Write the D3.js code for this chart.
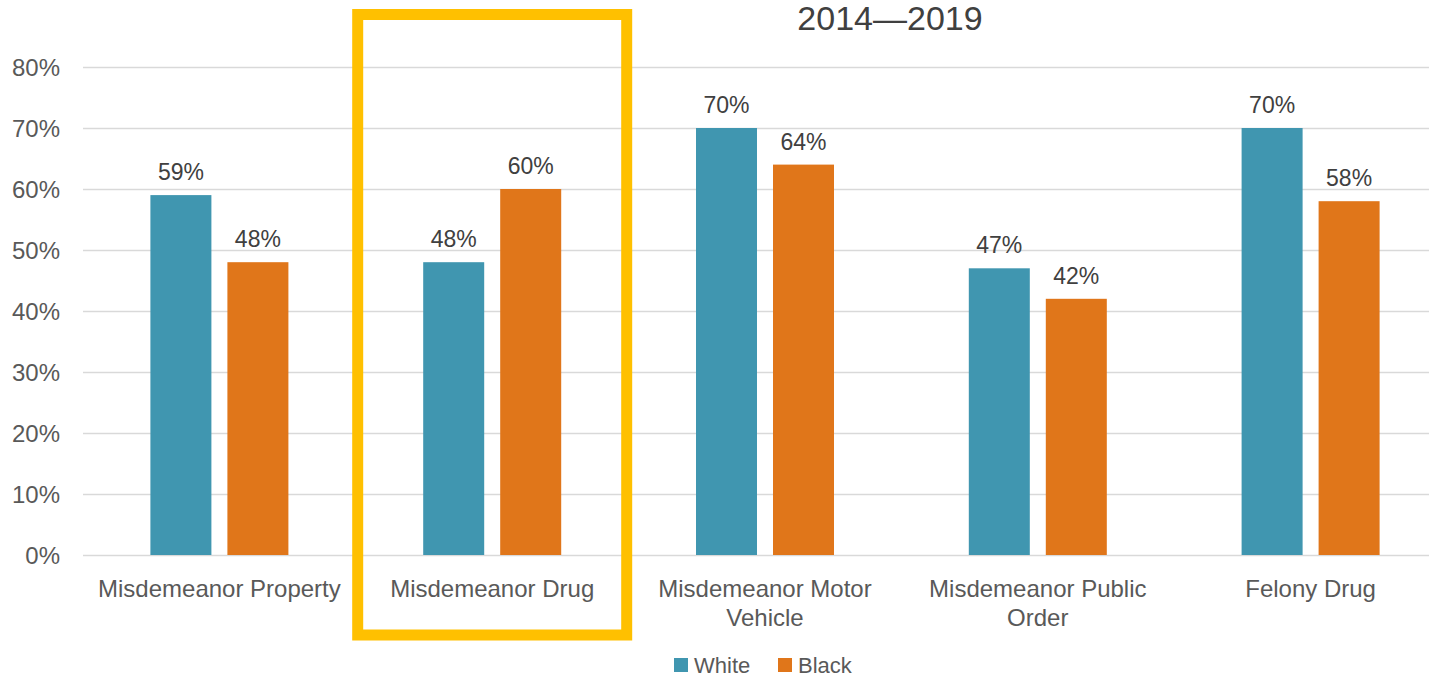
<!DOCTYPE html>
<html>
<head>
<meta charset="utf-8">
<script src="https://cdn.jsdelivr.net/npm/d3@7"></script>
<style>
  html, body { margin: 0; padding: 0; background: #fff; }
  svg { display: block; font-family: "Liberation Sans", Arial, sans-serif; }
</style>
</head>
<body>
<svg id="chart" width="1429" height="679"></svg>
<script>
// Offense categories (label lines) and share per group
const categories = [
  ["Misdemeanor Property"],
  ["Misdemeanor Drug"],
  ["Misdemeanor Motor", "Vehicle"],
  ["Misdemeanor Public", "Order"],
  ["Felony Drug"]
];
const seriesNames = ["White", "Black"];
const whiteValues = [59, 48, 70, 47, 70];
const blackValues = [48, 60, 64, 42, 58];
const yTicks = [0, 10, 20, 30, 40, 50, 60, 70, 80];
const titleText = "2014\u20142019";
const highlightedIndex = 1;

const colors = { White: "#4096B0", Black: "#E0761A" };
const textColor = "#595959";

const svg = d3.select("#chart");
const margin = { left: 83, top: 67, bottom: 124 };
const plotRight = 1447;
const height = 679;

const keys = categories.map((d, i) => i);
const x = d3.scaleBand().domain(keys).range([margin.left, plotRight]).paddingInner(0).paddingOuter(0);
const y = d3.scaleLinear().domain([0, 80]).range([height - margin.bottom, margin.top]);

// Bars within each category: two bars with a small gap
const barW = 61, gap = 16;
const xs = d3.scaleOrdinal().domain(seriesNames)
  .range([-(gap / 2) - barW, gap / 2]);

// Y axis labels
const yAxis = d3.axisLeft(y).tickValues(yTicks).tickFormat(d => d + "%").tickSize(0).tickPadding(0);
const gAxis = svg.append("g").attr("transform", `translate(${margin.left},0)`).call(yAxis);
gAxis.select(".domain").remove();
gAxis.selectAll("text")
  .attr("x", -23)
  .attr("dy", "0.36em")
  .attr("fill", textColor)
  .style("font-size", "24px")
  .style("font-family", "'Liberation Sans', Arial, sans-serif");

// Gridlines
svg.append("g").selectAll("line").data(yTicks).join("line")
  .attr("x1", margin.left).attr("x2", plotRight)
  .attr("y1", d => Math.round(y(d)) + 0.5).attr("y2", d => Math.round(y(d)) + 0.5)
  .attr("stroke", "#d9d9d9").attr("stroke-width", 1.5);

// Bars
const rows = keys.map(i => ({ i, White: whiteValues[i], Black: blackValues[i] }));
const groups = svg.append("g").selectAll("g").data(rows).join("g")
  .attr("transform", d => `translate(${x(d.i) + x.bandwidth() / 2},0)`);

groups.selectAll("rect").data(d => seriesNames.map(k => ({ k, v: d[k] }))).join("rect")
  .attr("x", d => xs(d.k))
  .attr("width", barW)
  .attr("y", d => y(d.v))
  .attr("height", d => y(0) - y(d.v))
  .attr("fill", d => colors[d.k]);

groups.selectAll("text.val").data(d => seriesNames.map(k => ({ k, v: d[k] }))).join("text")
  .attr("class", "val")
  .attr("x", d => xs(d.k) + barW / 2)
  .attr("y", d => y(d.v) - 15)
  .attr("text-anchor", "middle")
  .attr("fill", "#404040")
  .style("font-size", "23px")
  .text(d => d.v + "%");

// Category labels
const labels = svg.append("g").selectAll("text").data(keys).join("text")
  .attr("x", d => x(d) + x.bandwidth() / 2)
  .attr("y", 597)
  .attr("text-anchor", "middle")
  .attr("fill", textColor)
  .style("font-size", "24px");
labels.selectAll("tspan").data(d => categories[d].map((t, j) => ({ t, j, cx: x(d) + x.bandwidth() / 2 }))).join("tspan")
  .attr("x", d => d.cx)
  .attr("dy", d => d.j === 0 ? 0 : 29)
  .text(d => d.t);

// Title
svg.append("text")
  .attr("x", 890).attr("y", 30)
  .attr("text-anchor", "middle")
  .attr("fill", "#404040")
  .style("font-size", "34px")
  .text(titleText);

// Highlight box around one category
const hx = x(highlightedIndex) + x.bandwidth() / 2;
svg.append("rect")
  .attr("x", hx - 134.5).attr("y", 14.5)
  .attr("width", 269).attr("height", 620.5)
  .attr("fill", "none")
  .attr("stroke", "#FFC000")
  .attr("stroke-width", 11);

// Legend
const legend = svg.append("g");
const legendItems = [{ k: "White", x: 674 }, { k: "Black", x: 778 }];
legendItems.forEach(it => {
  legend.append("rect").attr("x", it.x).attr("y", 658).attr("width", 14).attr("height", 14).attr("fill", colors[it.k]);
  legend.append("text").attr("x", it.x + 20).attr("y", 673)
    .attr("fill", textColor).style("font-size", "22px").text(it.k);
});
</script>
</body>
</html>
